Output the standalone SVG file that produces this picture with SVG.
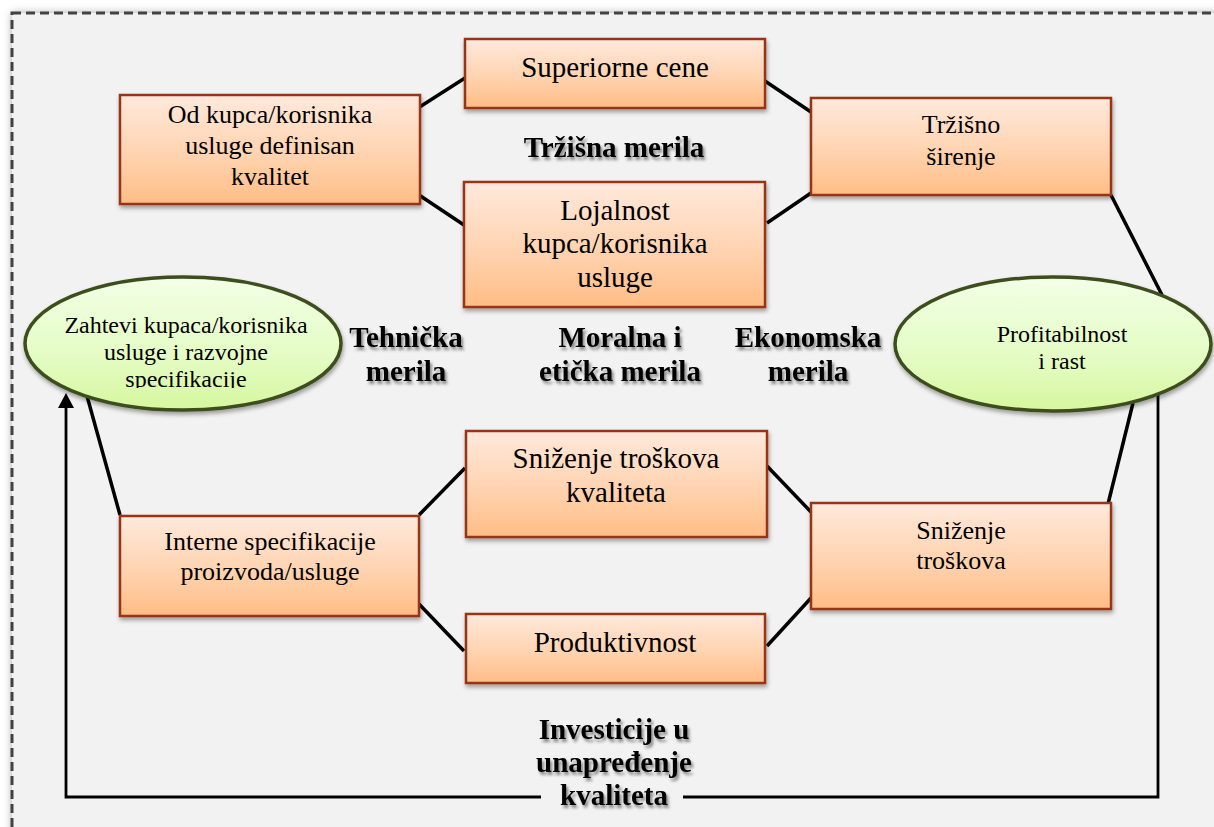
<svg xmlns="http://www.w3.org/2000/svg" width="1214" height="827" viewBox="0 0 1214 827">
  <defs>
    <linearGradient id="boxFill" x1="0" y1="0" x2="0" y2="1">
      <stop offset="0" stop-color="#ffe9dc"/>
      <stop offset="0.55" stop-color="#ffd3b0"/>
      <stop offset="1" stop-color="#ffbd85"/>
    </linearGradient>
    <linearGradient id="ovalFill" x1="0" y1="0" x2="0" y2="1">
      <stop offset="0" stop-color="#f2ffe6"/>
      <stop offset="0.6" stop-color="#e4fcc4"/>
      <stop offset="1" stop-color="#d6f79e"/>
    </linearGradient>
    <filter id="dropShadow" x="-10%" y="-10%" width="125%" height="135%">
      <feGaussianBlur in="SourceAlpha" stdDeviation="2"/>
      <feOffset dx="1" dy="3" result="b"/>
      <feFlood flood-color="#000" flood-opacity="0.35"/>
      <feComposite in2="b" operator="in"/>
      <feMerge><feMergeNode/><feMergeNode in="SourceGraphic"/></feMerge>
    </filter>
    <filter id="textShadow" x="-10%" y="-30%" width="125%" height="170%">
      <feGaussianBlur in="SourceAlpha" stdDeviation="1.6"/>
      <feOffset dx="2" dy="3" result="b"/>
      <feFlood flood-color="#000" flood-opacity="0.45"/>
      <feComposite in2="b" operator="in"/>
      <feMerge><feMergeNode/><feMergeNode in="SourceGraphic"/></feMerge>
    </filter>
    <filter id="frameShadow" x="-5%" y="-5%" width="110%" height="110%">
      <feGaussianBlur in="SourceAlpha" stdDeviation="4"/>
      <feFlood flood-color="#000" flood-opacity="0.35"/>
      <feComposite operator="in" in2="SourceAlpha" result="s"/>
      <feGaussianBlur stdDeviation="4"/>
      <feMerge><feMergeNode/><feMergeNode in="SourceGraphic"/></feMerge>
    </filter>
    <clipPath id="ovalTextClip">
      <rect x="0" y="0" width="400" height="388"/>
    </clipPath>
    <marker id="arrowHead" viewBox="0 0 15 16" refX="0" refY="8" markerWidth="15" markerHeight="16" markerUnits="userSpaceOnUse" orient="auto">
      <path d="M0,0 L15,8 L0,16 Z" fill="#000"/>
    </marker>
    <style>
      .box { fill: url(#boxFill); stroke: #983517; stroke-width: 2.5; filter: url(#dropShadow); }
      .oval { fill: url(#ovalFill); stroke: #3c4e1e; stroke-width: 3.5; filter: url(#dropShadow); }
      .t { font-family: "Liberation Serif", "Times New Roman", serif; fill: #000; text-anchor: middle; }
      .t26 { font-size: 26px; }
      .t29 { font-size: 29px; }
      .t24 { font-size: 24px; }
      .lbl { font-family: "Liberation Serif", "Times New Roman", serif; font-weight: bold; font-size: 29px; fill: #000; text-anchor: middle; filter: url(#textShadow); }
      .conn { stroke: #000; stroke-width: 3.5; fill: none; }
      .loop { stroke: #000; stroke-width: 2.8; fill: none; }
    </style>
  </defs>

  <!-- page and dashed frame -->
  <rect x="0" y="0" width="1214" height="827" fill="#ffffff"/>
  <rect x="12" y="13" width="1240" height="840" fill="#f2f2f2" filter="url(#frameShadow)"/>
  <rect x="12" y="13" width="1240" height="840" fill="none" stroke="#424242" stroke-width="3" stroke-dasharray="9 5"/>

  <!-- connectors -->
  <g id="connectors">
    <line class="conn" x1="418" y1="108" x2="465" y2="78"/>
    <line class="conn" x1="765" y1="81" x2="811" y2="112"/>
    <line class="conn" x1="419" y1="195" x2="464" y2="225"/>
    <line class="conn" x1="767" y1="223" x2="811" y2="193"/>
    <line class="conn" x1="1111" y1="195" x2="1162" y2="295"/>
    <line class="conn" x1="1133" y1="403" x2="1107" y2="508"/>
    <line class="conn" x1="120" y1="515" x2="87" y2="396"/>
    <line class="conn" x1="419" y1="515" x2="465" y2="468"/>
    <line class="conn" x1="767" y1="466" x2="811" y2="512"/>
    <line class="conn" x1="419" y1="604" x2="464" y2="651"/>
    <line class="conn" x1="767" y1="646" x2="811" y2="598"/>
    <polyline class="loop" points="1158,395 1158,797 683,797"/>
    <polyline class="loop" points="541,797 66,797 66,408" marker-end="url(#arrowHead)"/>
  </g>

  <!-- rectangular nodes -->
  <g id="node-od-kupca">
    <rect class="box" x="120" y="95" width="300" height="109"/>
    <text class="t t26" x="270" y="123">Od kupca/korisnika</text>
    <text class="t t26" x="270" y="154">usluge definisan</text>
    <text class="t t26" x="270" y="185">kvalitet</text>
  </g>
  <g id="node-superiorne-cene">
    <rect class="box" x="465" y="39" width="300" height="69"/>
    <text class="t t29" x="615" y="77">Superiorne cene</text>
  </g>
  <g id="node-lojalnost">
    <rect class="box" x="464" y="182" width="301" height="125"/>
    <text class="t t29" x="615" y="220">Lojalnost</text>
    <text class="t t29" x="615" y="253">kupca/korisnika</text>
    <text class="t t29" x="615" y="287">usluge</text>
  </g>
  <g id="node-trzisno-sirenje">
    <rect class="box" x="811" y="98" width="300" height="97"/>
    <text class="t t26" x="961" y="133">Tržišno</text>
    <text class="t t26" x="961" y="165">širenje</text>
  </g>
  <g id="node-interne-specifikacije">
    <rect class="box" x="120" y="516" width="299" height="100"/>
    <text class="t t26" x="270" y="550">Interne specifikacije</text>
    <text class="t t26" x="270" y="580">proizvoda/usluge</text>
  </g>
  <g id="node-snizenje-troskova-kvaliteta">
    <rect class="box" x="466" y="431" width="301" height="106"/>
    <text class="t t29" x="616" y="468">Sniženje troškova</text>
    <text class="t t29" x="616" y="502">kvaliteta</text>
  </g>
  <g id="node-produktivnost">
    <rect class="box" x="466" y="614" width="299" height="69"/>
    <text class="t t29" x="615" y="652">Produktivnost</text>
  </g>
  <g id="node-snizenje-troskova">
    <rect class="box" x="811" y="503" width="300" height="106"/>
    <text class="t t26" x="961" y="539">Sniženje</text>
    <text class="t t26" x="961" y="569">troškova</text>
  </g>

  <!-- elliptical nodes -->
  <g id="node-zahtevi-kupaca">
    <ellipse class="oval" cx="183" cy="343.5" rx="158" ry="66.5"/>
    <g clip-path="url(#ovalTextClip)">
      <text class="t t24" x="186" y="333">Zahtevi kupaca/korisnika</text>
      <text class="t t24" x="186" y="360">usluge i razvojne</text>
      <text class="t t24" x="186" y="387">specifikacije</text>
    </g>
  </g>
  <g id="node-profitabilnost">
    <ellipse class="oval" cx="1053" cy="344" rx="158" ry="67"/>
    <text class="t t24" x="1062" y="342">Profitabilnost</text>
    <text class="t t24" x="1062" y="369">i rast</text>
  </g>

  <!-- bold area labels -->
  <g id="labels">
    <text class="lbl" x="614" y="157">Tržišna merila</text>
    <text class="lbl" x="406" y="347">Tehnička</text>
    <text class="lbl" x="406" y="381">merila</text>
    <text class="lbl" x="620" y="347">Moralna i</text>
    <text class="lbl" x="620" y="381">etička merila</text>
    <text class="lbl" x="808" y="347">Ekonomska</text>
    <text class="lbl" x="808" y="381">merila</text>
    <text class="lbl" x="614" y="739">Investicije u</text>
    <text class="lbl" x="614" y="772">unapređenje</text>
    <text class="lbl" x="614" y="805">kvaliteta</text>
  </g>
</svg>
